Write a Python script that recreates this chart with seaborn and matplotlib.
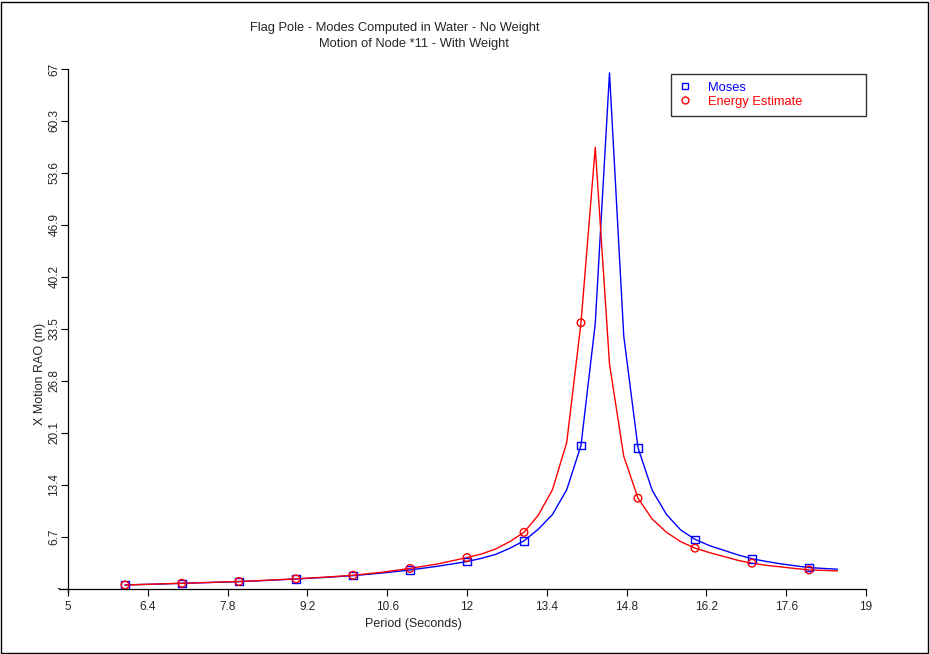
import matplotlib
matplotlib.use("Agg")
import matplotlib.pyplot as plt
from matplotlib.lines import Line2D
from matplotlib.patches import Rectangle
import seaborn as sns
import pandas as pd

# Wave period samples (s) and X motion RAO (m) for node 11
period = [6, 6.5, 7, 7.5, 8, 8.5, 9, 9.5, 10, 10.5, 11, 11.5, 12, 12.25, 12.5, 12.75,
          13, 13.25, 13.5, 13.75, 14, 14.25, 14.5, 14.75, 15, 15.25, 15.5, 15.75,
          16, 16.25, 16.5, 16.75, 17, 17.25, 17.5, 17.75, 18, 18.25, 18.5]
moses = [0.52, 0.62, 0.73, 0.84, 0.95, 1.11, 1.29, 1.49, 1.72, 2.05, 2.45, 2.95, 3.53, 3.95, 4.45, 5.25,
         6.2, 7.7, 9.6, 12.8, 18.5, 34.2, 66.5, 32.6, 18.2, 12.7, 9.6, 7.6,
         6.4, 5.6, 5.0, 4.4, 3.9, 3.55, 3.25, 3.0, 2.76, 2.65, 2.55]
energy = [0.52, 0.63, 0.74, 0.85, 0.97, 1.13, 1.31, 1.52, 1.77, 2.15, 2.65, 3.25, 4.05, 4.5, 5.15, 6.1,
          7.3, 9.5, 12.8, 18.9, 34.3, 56.9, 29.0, 17.1, 11.7, 9.0, 7.3, 6.1,
          5.26, 4.7, 4.2, 3.7, 3.32, 3.05, 2.85, 2.65, 2.46, 2.4, 2.33]
# Periods that carry a symbol
marker_periods = [6, 7, 8, 9, 10, 11, 12, 13, 14, 15, 16, 17, 18]

x_ticks = [5, 6.4, 7.8, 9.2, 10.6, 12, 13.4, 14.8, 16.2, 17.6, 19]
x_tick_labels = ["5", "6.4", "7.8", "9.2", "10.6", "12", "13.4", "14.8", "16.2", "17.6", "19"]
y_ticks = [0, 6.7, 13.4, 20.1, 26.8, 33.5, 40.2, 46.9, 53.6, 60.3, 67]
y_tick_labels = ["-", "6.7", "13.4", "20.1", "26.8", "33.5", "40.2", "46.9", "53.6", "60.3", "67"]

title_1 = "Flag Pole - Modes Computed in Water - No Weight"
title_2 = "Motion of Node *11 - With Weight"
series_names = ["Moses", "Energy Estimate"]
series_colors = ["#0000ff", "#ff0000"]

sns.set_style("white")
plt.rcParams["font.family"] = ["Liberation Sans", "DejaVu Sans"]

df = pd.DataFrame({"period": period, series_names[0]: moses, series_names[1]: energy})
long = df.melt(id_vars="period", var_name="series", value_name="rao")
pts = long[long["period"].isin(marker_periods)]

fig = plt.figure(figsize=(9.3, 6.54), dpi=100)
W, H = 930, 654
ax = fig.add_axes([68 / W, 1 - 589 / H, (866 - 68) / W, (589 - 69) / H])

palette = dict(zip(series_names, series_colors))
sns.lineplot(data=long, x="period", y="rao", hue="series", palette=palette,
             linewidth=1.0, legend=False, ax=ax, sort=False)
for name, mk in zip(series_names, ["s", "o"]):
    sub = pts[pts["series"] == name]
    sns.scatterplot(data=sub, x="period", y="rao", marker=mk, s=30,
                    facecolor="none", edgecolor=palette[name], linewidth=1.0,
                    legend=False, ax=ax, zorder=3)

ax.set_xlim(5, 19)
ax.set_ylim(0, 67)
ax.set_xticks(x_ticks)
ax.set_xticklabels(x_tick_labels, fontsize=8.5)
ax.set_yticks(y_ticks)
ax.set_yticklabels(y_tick_labels, fontsize=8.5, rotation=90, va="center")
ax.get_yticklabels()[0].set_rotation(0)
ax.tick_params(axis="both", direction="out", length=5, width=0.8, color="black")
ax.tick_params(axis="x", pad=4)
ax.tick_params(axis="y", pad=0.5)
ax.tick_params(bottom=True, left=True)
for s in ["top", "right"]:
    ax.spines[s].set_visible(False)
for s in ["left", "bottom"]:
    ax.spines[s].set_color("black")
    ax.spines[s].set_linewidth(0.9)
# small overshoot of the axis lines past the origin
ax.add_line(Line2D([-0.011, 0], [0, 0], transform=ax.transAxes, color="black", lw=0.9, clip_on=False))
ax.add_line(Line2D([0, 0], [-0.008, 0], transform=ax.transAxes, color="black", lw=0.9, clip_on=False))

ax.set_xlabel("")
ax.set_ylabel("")
fig.text(413 / W, 1 - 624 / H, "Period (Seconds)", ha="center", va="center", fontsize=9)
fig.text(40 / W, 1 - 374 / H, "X Motion RAO (m)", ha="center", va="center", fontsize=9, rotation=90)
fig.text(395 / W, 1 - 28 / H, title_1, ha="center", va="center", fontsize=9.3)
fig.text(414 / W, 1 - 44 / H, title_2, ha="center", va="center", fontsize=9.3)

handles = [Line2D([], [], marker="s", ls="none", mfc="none", mec=series_colors[0], ms=5, mew=1.0),
           Line2D([], [], marker="o", ls="none", mfc="none", mec=series_colors[1], ms=5, mew=1.0)]
leg = ax.legend(handles, series_names, loc="upper left", mode="expand",
                bbox_to_anchor=(671 / W, 1 - 116 / H, 195 / W, 42 / H),
                bbox_transform=fig.transFigure, borderaxespad=0, fancybox=False,
                frameon=True, fontsize=9.3, handlelength=1.0, handletextpad=1.3,
                labelspacing=0.15, borderpad=0.6)
leg.get_frame().set_edgecolor("black")
leg.get_frame().set_linewidth(1.0)
for t, c in zip(leg.get_texts(), series_colors):
    t.set_color(c)

fig.add_artist(Rectangle((1 / W, 1 / H), 1 - 3 / W, 1 - 3 / H, transform=fig.transFigure,
                         fill=False, edgecolor="black", linewidth=1.0))

fig.savefig("out.png", dpi=100)
